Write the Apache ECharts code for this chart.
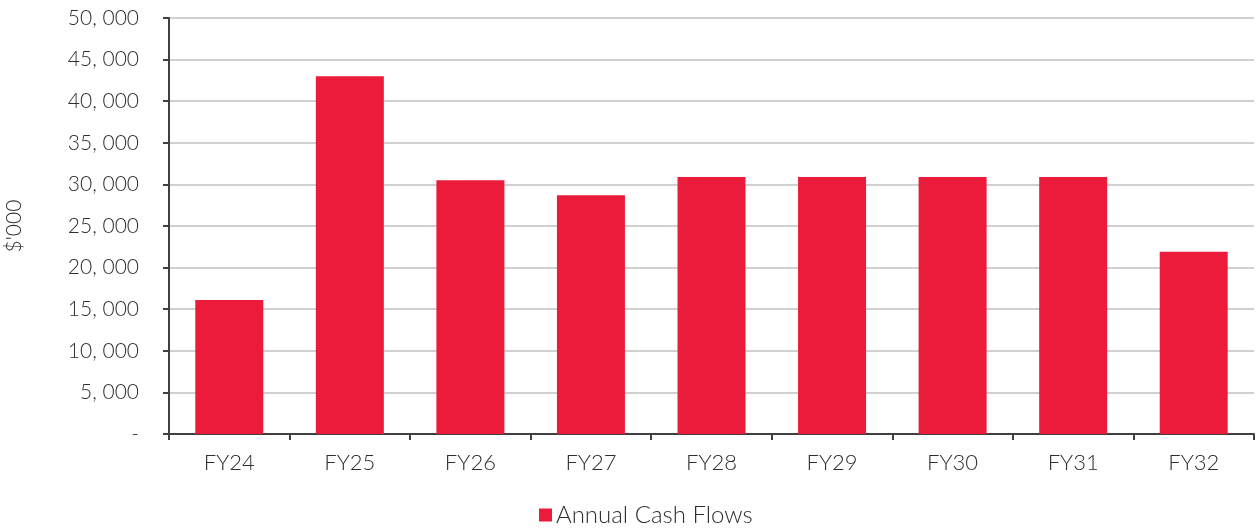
<!DOCTYPE html>
<html>
<head>
<meta charset="utf-8">
<style>
  html, body { margin: 0; padding: 0; background: #fff; }
  #chart { width: 1259px; height: 528px; }
</style>
<script src="https://cdn.jsdelivr.net/npm/echarts@6/dist/echarts.min.js"></script>
</head>
<body>
<div id="chart"></div>
<script>
// Annual cash flows by financial year ($'000)
const categories = ['FY24', 'FY25', 'FY26', 'FY27', 'FY28', 'FY29', 'FY30', 'FY31', 'FY32'];
const cashFlows = [16100, 43000, 30500, 28700, 30900, 30900, 30900, 30900, 21900];
const seriesName = 'Annual Cash Flows';
const yAxisTitle = "$'000";

const textColor = '#2e2e2e';
const fontFamily = 'Lato, "Open Sans", sans-serif';

const chart = echarts.init(document.getElementById('chart'));
chart.setOption({
  animation: false,
  textStyle: { fontFamily: fontFamily, fontWeight: 300 },
  grid: { left: 169, right: 5, top: 18, bottom: 94, containLabel: false, outerBoundsMode: 'none' },
  legend: {
    data: [seriesName],
    bottom: -4,
    left: 534,
    itemWidth: 13,
    itemHeight: 13,
    itemGap: 4,
    icon: 'rect',
    textStyle: { fontSize: 24, color: textColor, fontFamily: fontFamily, fontWeight: 300, padding: [3, 0, 0, -1] }
  },
  xAxis: {
    type: 'category',
    data: categories,
    axisLine: { lineStyle: { color: '#404040', width: 2 } },
    axisTick: { show: true, alignWithLabel: false, length: 6, lineStyle: { color: '#404040', width: 2 } },
    axisLabel: { color: textColor, fontSize: 22, fontWeight: 300, margin: 18 }
  },
  yAxis: {
    type: 'value',
    min: 0,
    max: 50000,
    interval: 5000,
    name: yAxisTitle,
    nameLocation: 'middle',
    nameGap: 144,
    nameRotate: 90,
    nameTextStyle: { color: textColor, fontSize: 21, fontWeight: 300 },
    axisLine: { show: true, lineStyle: { color: '#404040', width: 2 } },
    axisTick: { show: true, length: 6, lineStyle: { color: '#404040', width: 2 } },
    axisLabel: {
      color: textColor,
      fontSize: 21,
      fontWeight: 300,
      margin: 30,
      formatter: function (v) { return v === 0 ? '-' : v.toLocaleString('en-US').replace(',', ', '); }
    },
    splitLine: { lineStyle: { color: '#d0d0d0', width: 2 } }
  },
  series: [{
    name: seriesName,
    type: 'bar',
    data: cashFlows,
    barWidth: 68,
    itemStyle: { color: '#ED1B3B' }
  }]
});
</script>
</body>
</html>
